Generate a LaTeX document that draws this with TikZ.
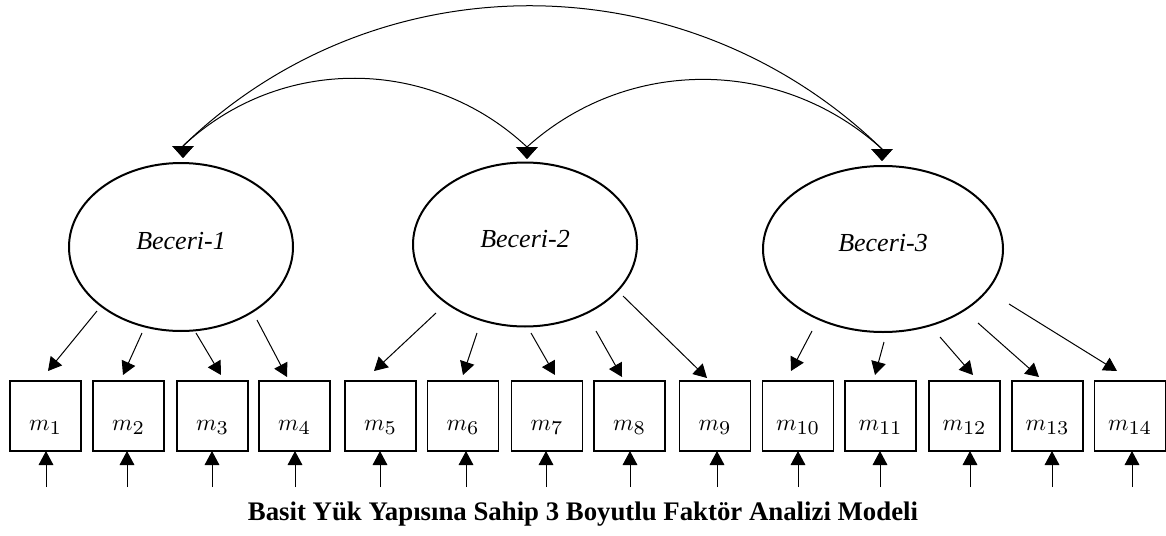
\documentclass[tikz,border=0pt]{standalone}
\usepackage{graphicx}
\usepackage{fontspec}
\setmainfont{Liberation Serif}
\usetikzlibrary{arrows.meta,shapes.geometric}
\newcommand{\mvar}[1]{\scalebox{1.75}{$m_{\scalebox{1.2}{$\scriptstyle #1$}}$}}
\begin{document}
\begin{tikzpicture}[x=0.75pt,y=-0.75pt,
  latent/.style={draw,ellipse,line width=1.5pt,inner sep=0pt,outer sep=0pt,
    font=\fontsize{19.5}{20}\selectfont\itshape,text depth=9pt},
  obs/.style={draw,rectangle,line width=0.8pt,minimum width=53.25pt,minimum height=52.5pt,
    inner sep=0pt,outer sep=0pt,text height=21pt,text depth=0pt},
  load/.style={-{Triangle[length=10pt,width=11pt]},line width=0.75pt},
  err/.style={-{Triangle[length=10.5pt,width=11pt]},line width=0.75pt},
  cov/.style={{Triangle[length=9pt,width=16pt]}-{Triangle[length=9pt,width=16pt]},line width=0.75pt},
  title/.style={font=\fontsize{20.1}{22}\selectfont\bfseries,inner sep=0pt}]
\useasboundingbox (0,0) rectangle (1166,535);

% latent factors
\node[latent,minimum width=168pt,minimum height=126pt] (B1) at (181,247) {Beceri-1};
\node[latent,minimum width=168pt,minimum height=123pt] (B2) at (525,244.5) {Beceri-2};
\node[latent,minimum width=180pt,minimum height=124.5pt] (B3) at (883,249) {Beceri-3};

% covariance arcs
\coordinate (t1) at (183,158); \coordinate (b1) at (183,146);
\coordinate (t2) at (527,159); \coordinate (b2) at (527,147);
\coordinate (t3) at (882,161); \coordinate (b3) at (882,149);
\draw[cov] (t1) -- (b1) .. controls (378,-43) and (687,-40) .. (b3) -- (t3);
\draw[cov] (t1) -- (b1) .. controls (280,55) and (430,56) .. (b2) -- (t2);
\draw[cov] (t2) -- (b2) .. controls (628,56) and (781,57) .. (b3) -- (t3);

% observed variables
\foreach \i/\x in {1/45.5,2/128.5,3/212.5,4/294.5,5/380.5,6/463,7/547,8/629.5,9/715,10/798,11/880.5,12/964.5,13/1047.5,14/1130}
  \node[obs] (m\i) at (\x,416) {\mvar{\i}};

% loadings
\foreach \i/\f/\sx/\sy/\tx/\ty in {1/B1/97/311/48/371,2/B1/142/333/123/375,3/B1/196/333/221/375,4/B1/257/320/287/377,
  5/B2/436/313/374/371,6/B2/477/333/463/375,7/B2/531/333/555/375,8/B2/596/331/622/377,9/B2/623/296/707/378,
  10/B3/812/331/791/371,11/B3/884/342/875/375,12/B3/940/337/973/375,13/B3/978/323/1039/377,14/B3/1009/304/1117/371}
{
  \coordinate (s\i) at (\sx,\sy);
  \coordinate (u\i) at (\tx,\ty);
  \draw[load] (s\i) -- (u\i);
}

% error terms
\foreach \i/\x in {1/46,2/127,3/212,4/295,5/380,6/466,7/546,8/630,9/717,10/798,11/880,12/970,13/1052,14/1132}
{
  \coordinate (e\i) at (\x,487);
  \draw[err] (e\i) -- (e\i |- m\i.south);
}

% title
\node[title,anchor=base] (T) at (583,520) {Basit Yük Yapısına Sahip 3 Boyutlu Faktör Analizi Modeli};
\end{tikzpicture}
\end{document}
